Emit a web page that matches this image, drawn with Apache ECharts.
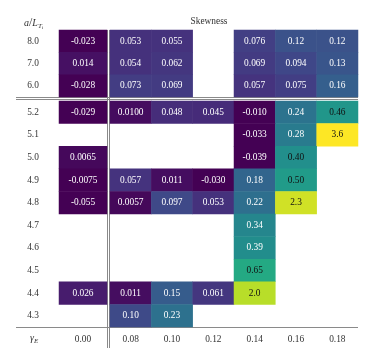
<!DOCTYPE html>
<html>
<head>
<meta charset="utf-8">
<style>
  html, body { margin: 0; padding: 0; background: #fff; }
  #chart { width: 374px; height: 357px; }
</style>
<script src="https://cdn.jsdelivr.net/npm/echarts@6/dist/echarts.min.js"></script>
</head>
<body>
<div id="chart"></div>
<script>
// 列：gamma_E
const xCats = ['0.00', '0.08', '0.10', '0.12', '0.14', '0.16', '0.18'];
// 行：a/L_Ti
const rowsUpper = ['8.0', '7.0', '6.0'];
const rowsLower = ['5.2', '5.1', '5.0', '4.9', '4.8', '4.7', '4.6', '4.5', '4.4', '4.3'];

// Skewness（'' = 空格）
const skewUpper = [
    ['-0.023', '0.053', '0.055', '', '0.076', '0.12', '0.12'],
    ['0.014', '0.054', '0.062', '', '0.069', '0.094', '0.13'],
    ['-0.028', '0.073', '0.069', '', '0.057', '0.075', '0.16']
];
const skewLower = [
    ['-0.029', '0.0100', '0.048', '0.045', '-0.010', '0.24', '0.46'],
    ['', '', '', '', '-0.033', '0.28', '3.6'],
    ['0.0065', '', '', '', '-0.039', '0.40', ''],
    ['-0.0075', '0.057', '0.011', '-0.030', '0.18', '0.50', ''],
    ['-0.055', '0.0057', '0.097', '0.053', '0.22', '2.3', ''],
    ['', '', '', '', '0.34', '', ''],
    ['', '', '', '', '0.39', '', ''],
    ['', '', '', '', '0.65', '', ''],
    ['0.026', '0.011', '0.15', '0.061', '2.0', '', ''],
    ['', '0.10', '0.23', '', '', '', '']
];

const viridis = ['#440154', '#482475', '#414487', '#355f8d', '#2a788e', '#21918c',
                 '#22a884', '#44bf70', '#7ad151', '#bddf26', '#fde725'];

const FONT = '"Liberation Serif", "DejaVu Serif", serif';

// 颜色归一化（对数型压缩）
function norm(v) {
    const c = 0.08, vmax = 3.0;
    const t = Math.log(1 + Math.max(v, 0) / c) / Math.log(1 + vmax / c);
    return Math.min(1, Math.max(0, t));
}

function cells(table, c0, c1) {
    const out = [];
    table.forEach((row, r) => {
        for (let c = c0; c < c1; c++) {
            const s = row[c];
            if (s === '') continue;
            const v = Number(s);
            out.push({
                value: [c - c0, r, v, norm(v), s],
                label: { color: v >= 0.40 ? '#111' : '#fff' }
            });
        }
    });
    return out;
}

const grids = [
    { left: 59, top: 30, width: 48, height: 67 },
    { left: 110, top: 30, width: 248, height: 67 },
    { left: 59, top: 101, width: 48, height: 226 },
    { left: 110, top: 101, width: 248, height: 226 }
];

const hide = { show: false };
function xAxis(i, cats, showLabel) {
    return {
        type: 'category', gridIndex: i, data: cats,
        axisLine: hide, axisTick: hide, splitLine: hide,
        axisLabel: { show: showLabel, margin: 8, color: '#333', fontFamily: FONT, fontSize: 9.4 }
    };
}
function yAxis(i, cats, showLabel) {
    return {
        type: 'category', gridIndex: i, data: cats, inverse: true,
        axisLine: hide, axisTick: hide, splitLine: hide,
        axisLabel: { show: showLabel, margin: 26, align: 'center', color: '#333', fontFamily: FONT, fontSize: 9.4 }
    };
}

const left = xCats.slice(0, 1), right = xCats.slice(1);

function heat(i, data) {
    return {
        type: 'heatmap', xAxisIndex: i, yAxisIndex: i, data: data,
        itemStyle: { borderWidth: 0 },
        emphasis: { disabled: true },
        label: {
            show: true, fontFamily: FONT, fontSize: 9.4,
            formatter: p => p.data.value[4]
        }
    };
}

const lineStyle = { stroke: '#8a8a8a', lineWidth: 1 };

const option = {
    animation: false,
    backgroundColor: '#fff',
    grid: grids,
    xAxis: [xAxis(0, left, false), xAxis(1, right, false), xAxis(2, left, true), xAxis(3, right, true)],
    yAxis: [yAxis(0, rowsUpper, true), yAxis(1, rowsUpper, false), yAxis(2, rowsLower, true), yAxis(3, rowsLower, false)],
    visualMap: {
        show: false, type: 'continuous', dimension: 3, min: 0, max: 1,
        seriesIndex: [0, 1, 2, 3],
        inRange: { color: viridis }
    },
    series: [
        heat(0, cells(skewUpper, 0, 1)),
        heat(1, cells(skewUpper, 1, 7)),
        heat(2, cells(skewLower, 0, 1)),
        heat(3, cells(skewLower, 1, 7))
    ],
    graphic: [
        { type: 'text', left: 24, top: 17, style: {
            text: '{i|a}/{i|L}{s|T}{ss|i}', fontFamily: FONT, fill: '#333',
            rich: {
                i: { fontStyle: 'italic', fontSize: 10, fontFamily: FONT },
                s: { fontStyle: 'italic', fontSize: 7, fontFamily: FONT, padding: [6, 0, 0, 0] },
                ss: { fontSize: 5, fontFamily: FONT, padding: [10, 0, 0, 0] }
            }
        } },
        { type: 'text', x: 209, y: 22, style: {
            text: 'Skewness', fontFamily: FONT, fontSize: 9.4, fill: '#333',
            align: 'center', verticalAlign: 'middle'
        } },
        { type: 'text', left: 30, top: 333, style: {
            text: '{i|γ}{s|E}', fontFamily: FONT, fill: '#333',
            rich: {
                i: { fontStyle: 'italic', fontSize: 10, fontFamily: FONT },
                s: { fontStyle: 'italic', fontSize: 7, fontFamily: FONT, padding: [6, 0, 0, 0] }
            }
        } },
        { type: 'line', shape: { x1: 107.5, y1: 30, x2: 107.5, y2: 348 }, style: lineStyle },
        { type: 'line', shape: { x1: 109.5, y1: 30, x2: 109.5, y2: 348 }, style: lineStyle },
        { type: 'line', shape: { x1: 16, y1: 97.5, x2: 358, y2: 97.5 }, style: lineStyle },
        { type: 'line', shape: { x1: 16, y1: 99.5, x2: 358, y2: 99.5 }, style: lineStyle },
        { type: 'line', shape: { x1: 16, y1: 327.5, x2: 358, y2: 327.5 }, style: lineStyle }
    ]
};

const myChart = echarts.init(document.getElementById('chart'));
myChart.setOption(option);
</script>
</body>
</html>
